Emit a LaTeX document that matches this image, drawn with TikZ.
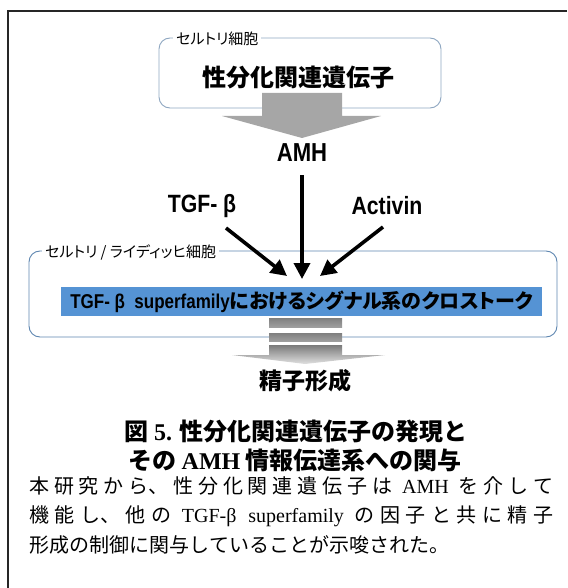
\documentclass[tikz,border=0pt]{standalone}
\usepackage{fontspec}
\setmainfont{Liberation Serif}
\newfontfamily\jpd{Noto Sans CJK JP}[RawFeature={+palt}]
\newfontfamily\jpb{Noto Sans CJK JP}
\newfontfamily\nsans{Liberation Sans}[FakeStretch=0.85]
\usetikzlibrary{arrows.meta}
\definecolor{boxline}{HTML}{8DA6C0}
\definecolor{boxlinetwo}{HTML}{5E86B0}
\definecolor{barblue}{HTML}{5593D4}
\definecolor{arrowgrey}{HTML}{A6A6A6}
\XeTeXlinebreaklocale "ja"
\XeTeXlinebreakskip=0pt plus 2pt
\tolerance=10000
\begin{document}
\begin{tikzpicture}[x=1pt,y=-1pt,
  cellbox/.style={draw=#1, line width=0.9pt, rounded corners=11pt, inner sep=0pt},
  celllabel/.style={fill=white, inner sep=3pt, font=\jpd\fontsize{15}{18}\selectfont},
  bigjp/.style={inner sep=0pt, font=\jpd\bfseries\fontsize{24}{28}\selectfont},
  latlabel/.style={inner sep=0pt, font=\nsans\bfseries\fontsize{25}{30}\selectfont},
  blackarrow/.style={line width=3.6pt, -{Triangle[length=16pt,width=16pt]}},
  captionjp/.style={inner sep=0pt, font=\jpb\bfseries\fontsize{24}{28}\selectfont},
  bodyjp/.style={inner sep=0pt, text width=524pt, align=justify, font=\jpb\fontsize{20}{29.5}\selectfont}
]
\useasboundingbox (0,0) rectangle (567,588);
% outer frame (cropped)
\draw[line width=2pt, black!85] (567,11) -- (8,11) -- (8,588);

% Sertoli cell box
\node[cellbox=boxline, minimum width=282pt, minimum height=70pt] (sertoli) at (300,73) {};
\node[celllabel, anchor=west] (sertolilabel) at (173,39) {セルトリ細胞};
\node[bigjp] (genes) at (298,77) {性分化関連遺伝子};
\fill[arrowgrey] (262,93) -- (342,93) -- (342,116) -- (381,116) -- (302,138) -- (222,116) -- (262,116) -- cycle;

\node[latlabel, font=\nsans\bfseries\fontsize{26}{30}\selectfont] (amh) at (302,153) {AMH};
\node[latlabel] (tgf) at (202,206) {TGF- β};
\node[latlabel] (activin) at (387,206) {Activin};

% Sertoli / Leydig box
\node[cellbox=boxlinetwo, minimum width=528pt, minimum height=86pt] (leydig) at (293,294) {};
\node[celllabel, anchor=west] (leydiglabel) at (42,252) {セルトリ / ライディッヒ細胞};
\node[fill=barblue, minimum width=481pt, minimum height=29pt, inner sep=0pt] (crosstalk) at (301.5,301.5)
  {\bfseries\fontsize{20}{24}\selectfont{\nsans TGF- β\ \ superfamily}{\jpd におけるシグナル系のクロストーク}};

% arrows to the cross-talk
\coordinate (amhout) at (302,175);
\coordinate (hub) at (302,279);
\coordinate (tgfout) at (226,228);
\coordinate (tgfin) at (287,276);
\coordinate (actout) at (383,227);
\coordinate (actin) at (320,276);
\draw[blackarrow] (amhout) -- (hub);
\draw[blackarrow] (tgfout) -- (tgfin);
\draw[blackarrow] (actout) -- (actin);

% striped arrow
\shade[top color=black!50, bottom color=black!38] (269,318) rectangle (342,327);
\shade[top color=black!50, bottom color=black!38] (269,333) rectangle (342,341);
\shade[top color=black!52, bottom color=black!12] (269,345) -- (342,345) -- (342,355) -- (385,355) -- (305,364) -- (232,355) -- (269,355) -- cycle;

\node[bigjp, font=\jpd\bfseries\fontsize{23}{28}\selectfont] (sperm) at (305,381) {精子形成};

% caption
\node[captionjp] (cap1) at (296,431) {図 {\rmfamily\bfseries 5.} 性分化関連遺伝子の発現と};
\node[captionjp] (cap2) at (295,460) {その {\rmfamily\bfseries AMH} 情報伝達系への関与};

% body
\node[bodyjp, anchor=north west] (body) at (29,476) {本研究から、性分化関連遺伝子は {\rmfamily AMH} を介して\linebreak 機能し、他の {\rmfamily TGF-β superfamily} の因子と共に精子\linebreak 形成の制御に関与していることが示唆された。};
\end{tikzpicture}
\end{document}
